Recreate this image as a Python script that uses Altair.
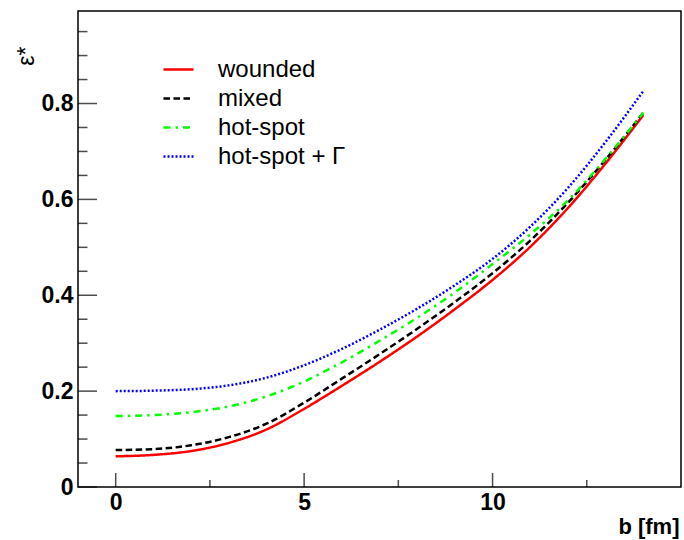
import altair as alt
import pandas as pd

# ---- data ----
b_values = [0, 1, 2, 3, 4, 5, 6, 7, 8, 9, 10, 11, 12, 13, 14]
wounded = [0.064, 0.067, 0.075, 0.092, 0.120, 0.163, 0.211, 0.261, 0.314, 0.371, 0.432, 0.501, 0.582, 0.675, 0.776]
mixed = [0.077, 0.079, 0.087, 0.104, 0.132, 0.176, 0.226, 0.277, 0.330, 0.386, 0.446, 0.514, 0.593, 0.683, 0.781]
hot_spot = [0.148, 0.150, 0.156, 0.168, 0.189, 0.220, 0.260, 0.305, 0.353, 0.406, 0.465, 0.527, 0.598, 0.685, 0.781]
hot_spot_gamma = [0.200, 0.201, 0.204, 0.212, 0.228, 0.254, 0.288, 0.328, 0.372, 0.421, 0.476, 0.543, 0.624, 0.720, 0.826]

series_names = ["wounded", "mixed", "hot-spot", "hot-spot + \u0393"]
series_colors = ["#ff0000", "#000000", "#00ff00", "#0000ff"]
series_dashes = [[1, 0], [6.5, 3.5], [7, 5, 2.5, 5], [2, 2]]

x_major = [0, 5, 10]
x_minor = [2.5, 7.5, 12.5]
y_major = [0, 0.2, 0.4, 0.6, 0.8]
y_minor = [0.05, 0.1, 0.15, 0.25, 0.3, 0.35, 0.45, 0.5, 0.55, 0.65, 0.7, 0.75, 0.85, 0.9, 0.95]

W, H = 603, 476
FONT = "Liberation Sans"

rows = []
for name, ys in zip(series_names, [wounded, mixed, hot_spot, hot_spot_gamma]):
    for b, v in zip(b_values, ys):
        rows.append({"b": b, "eps": v, "model": name})
df = pd.DataFrame(rows)

x_scale = alt.Scale(domain=[-1, 15], nice=False, zero=False)
y_scale = alt.Scale(domain=[0, 0.993], nice=False, zero=False)

x_axis = alt.Axis(
    values=x_major, ticks=False, domain=False, grid=False,
    labelFont=FONT, labelFontSize=23, labelFontWeight="bold", labelColor="black",
    labelPadding=4, title="b [fm]", titleFont=FONT, titleFontSize=22,
    titleFontWeight="bold", titleColor="black", titleAlign="right",
    titleBaseline="alphabetic", titleX=601, titleY=46, titleAnchor="end",
)
y_axis = alt.Axis(
    values=y_major, ticks=False, domain=False, grid=False,
    labelFont=FONT, labelFontSize=23, labelFontWeight="bold", labelColor="black",
    labelPadding=5, labelExpr="datum.value == 0 ? '0' : format(datum.value, '.1f')",
    title="\u03b5*", titleFont=FONT, titleFontSize=23, titleFontWeight="normal",
    titleColor="black", titleAngle=270, titleAlign="right", titleBaseline="alphabetic",
    titleX=-45, titleY=35,
)

legend = alt.Legend(title=None)

lines = alt.Chart(df).mark_line(strokeWidth=2.5, interpolate="monotone", clip=True).encode(
    x=alt.X("b:Q", scale=x_scale, axis=x_axis),
    y=alt.Y("eps:Q", scale=y_scale, axis=y_axis),
    color=alt.Color("model:N", scale=alt.Scale(domain=series_names, range=series_colors),
                    sort=series_names, legend=legend),
    strokeDash=alt.StrokeDash("model:N", scale=alt.Scale(domain=series_names, range=series_dashes),
                              sort=series_names, legend=legend),
    detail="model:N",
)

xmaj = alt.Chart(pd.DataFrame({"v": x_major})).mark_tick(
    orient="vertical", size=14, thickness=1.5, color="black").encode(
    x=alt.X("v:Q", scale=x_scale, axis=x_axis), y=alt.value(H - 7))
xmin = alt.Chart(pd.DataFrame({"v": x_minor})).mark_tick(
    orient="vertical", size=7, thickness=1.5, color="black").encode(
    x=alt.X("v:Q", scale=x_scale, axis=x_axis), y=alt.value(H - 3.5))
ymaj = alt.Chart(pd.DataFrame({"v": y_major})).mark_tick(
    orient="horizontal", size=19, thickness=1.5, color="black").encode(
    y=alt.Y("v:Q", scale=y_scale, axis=y_axis), x=alt.value(9.5))
ymin = alt.Chart(pd.DataFrame({"v": y_minor})).mark_tick(
    orient="horizontal", size=9.5, thickness=1.5, color="black").encode(
    y=alt.Y("v:Q", scale=y_scale, axis=y_axis), x=alt.value(4.75))

chart = alt.layer(lines, xmaj, xmin, ymaj, ymin).properties(
    width=W, height=H,
    padding={"left": 78, "top": 11, "right": 3, "bottom": 53},
    autosize=alt.AutoSizeParams(type="none"),
    background="white",
).configure_view(
    stroke="black", strokeWidth=1.5
).configure_legend(
    orient="none", legendX=84, legendY=42, padding=0,
    symbolType="stroke", symbolSize=900, symbolStrokeWidth=2.5,
    labelFont=FONT, labelFontSize=24, labelColor="black", labelOffset=23,
    rowPadding=-3, labelLimit=400,
)

chart.save("out.html", embed_options={"renderer": "svg", "actions": False})
